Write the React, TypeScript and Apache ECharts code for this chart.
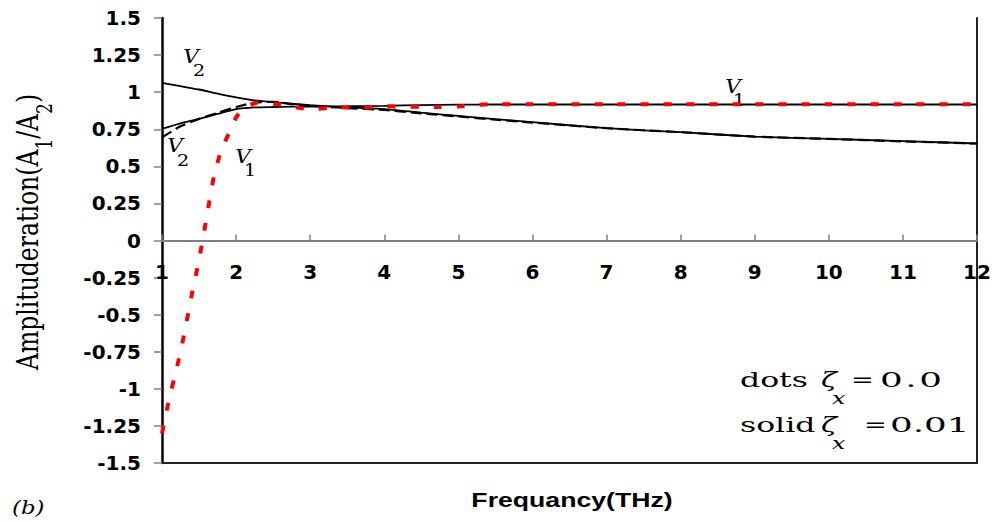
import React, { useEffect, useRef } from "react";
import * as echarts from "echarts";

// Frequency grid (THz) for the three smooth curves
const freq = [1, 1.25, 1.5, 1.75, 2, 2.25, 2.5, 2.75, 3, 3.5, 4, 4.5, 5, 5.5, 6, 7, 8, 9, 10, 11, 12];
// solid, zeta_x = 0.01
const v1Solid = [0.753, 0.79, 0.82, 0.853, 0.885, 0.897, 0.9, 0.902, 0.903, 0.905, 0.908, 0.913, 0.916, 0.917, 0.917, 0.917, 0.917, 0.917, 0.917, 0.917, 0.917];
const v2Solid = [1.063, 1.04, 1.018, 0.99, 0.965, 0.945, 0.933, 0.922, 0.912, 0.898, 0.886, 0.862, 0.84, 0.818, 0.798, 0.757, 0.73, 0.7, 0.685, 0.67, 0.654];
// dashed, zeta_x = 0.0 (V2)
const v2Dashed = [0.695, 0.77, 0.82, 0.86, 0.9, 0.93, 0.935, 0.92, 0.908, 0.893, 0.88, 0.857, 0.836, 0.815, 0.795, 0.757, 0.73, 0.7, 0.685, 0.668, 0.654];
// dotted red, zeta_x = 0.0 (V1)
const freqDot = [1, 1.1, 1.2, 1.3, 1.4, 1.5, 1.6, 1.7, 1.8, 1.9, 2, 2.1, 2.3, 2.6, 3, 3.4, 3.7, 4, 4.7, 5, 5.4, 6, 7, 8, 9, 10, 11, 12];
const v1Dotted = [-1.3, -1.06, -0.86, -0.63, -0.37, -0.13, 0.15, 0.43, 0.61, 0.72, 0.83, 0.89, 0.93, 0.915, 0.885, 0.898, 0.895, 0.905, 0.9, 0.903, 0.918, 0.918, 0.918, 0.918, 0.918, 0.918, 0.918, 0.918];

const xMin = 1;
const xMax = 12;
const yMin = -1.5;
const yMax = 1.5;
const yStep = 0.25;

const pairs = (xs: number[], ys: number[]) => xs.map((x, i) => [x, ys[i]]);

const SERIF = "'DejaVu Serif', serif";
const SANS_BOLD = "'DejaVu Sans', sans-serif";

const GRID_TOP = 18;
const GRID_BOTTOM = 59;
const CHART_H = 522;
const PLOT_H = CHART_H - GRID_TOP - GRID_BOTTOM;
// shift of the frequency axis from the plot's bottom edge up to the value 0
const ZERO_SHIFT = -PLOT_H * (0 - yMin) / (yMax - yMin);

function txt(x: number, y: number, text: string, opts: any = {}) {
  const { scaleX = 1, scaleY = 1, rotation = 0, ...style } = opts;
  return {
    type: "text",
    x,
    y,
    scaleX,
    scaleY,
    rotation,
    silent: true,
    style: {
      text,
      fill: "#000",
      fontFamily: SERIF,
      fontSize: 18,
      align: "left",
      verticalAlign: "middle",
      ...style,
    },
  };
}

function buildOption() {
  return {
    animation: false,
    backgroundColor: "#fff",
    grid: { left: 162, right: 21, top: GRID_TOP, bottom: GRID_BOTTOM, containLabel: false },
    xAxis: [
      {
        type: "value",
        min: xMin,
        max: xMax,
        interval: 1,
        position: "bottom",
        offset: ZERO_SHIFT,
        axisLine: { onZero: false, lineStyle: { color: "#808080", width: 2 } },
        axisTick: { inside: true, length: 6, lineStyle: { color: "#808080", width: 1.5 } },
        axisLabel: {
          color: "#000",
          fontFamily: SANS_BOLD,
          fontWeight: "bold",
          fontSize: 20,
          margin: 21,
        },
        splitLine: { show: false },
        z: 1,
      },
      {
        type: "value",
        min: xMin,
        max: xMax,
        position: "bottom",
        axisLine: { onZero: false, lineStyle: { color: "#222", width: 2 } },
        axisTick: { show: false },
        axisLabel: { show: false },
        splitLine: { show: false },
      },
    ],
    yAxis: [
      {
        type: "value",
        min: yMin,
        max: yMax,
        interval: yStep,
        axisLine: { show: true, onZero: false, lineStyle: { color: "#000", width: 2.5 } },
        axisTick: { show: true, length: 8, lineStyle: { color: "#808080", width: 1.5 } },
        axisLabel: {
          color: "#000",
          fontFamily: SANS_BOLD,
          fontWeight: "bold",
          fontSize: 20,
          margin: 21,
        },
        splitLine: { show: false },
      },
      {
        type: "value",
        min: yMin,
        max: yMax,
        position: "right",
        axisLine: { show: true, onZero: false, lineStyle: { color: "#222", width: 2 } },
        axisTick: { show: false },
        axisLabel: { show: false },
        splitLine: { show: false },
      },
    ],
    series: [
      {
        name: "V1 solid",
        type: "line",
        data: pairs(freq, v1Solid),
        showSymbol: false,
        symbol: "none",
        smooth: 0.2,
        lineStyle: { color: "#000", width: 1.8 },
        z: 2,
      },
      {
        name: "V2 solid",
        type: "line",
        data: pairs(freq, v2Solid),
        showSymbol: false,
        symbol: "none",
        smooth: 0.2,
        lineStyle: { color: "#000", width: 1.8 },
        z: 2,
      },
      {
        name: "V2 dashed",
        type: "line",
        data: pairs(freq, v2Dashed),
        showSymbol: false,
        symbol: "none",
        smooth: 0.2,
        lineStyle: { color: "#000", width: 2.2, type: [11, 5] },
        z: 3,
      },
      {
        name: "V1 dotted",
        type: "line",
        data: pairs(freqDot, v1Dotted),
        showSymbol: false,
        symbol: "none",
        smooth: 0.2,
        lineStyle: { color: "#ff0000", width: 4, type: [8, 15] },
        z: 4,
      },
    ],
    graphic: [
      // y-axis title (rotated)
      {
        type: "text",
        x: 27,
        y: 232,
        rotation: Math.PI / 2,
        scaleY: 1.3,
        silent: true,
        style: {
          text: "{a|Amplituderation(A}{s|1}{a|/A}{s|2}{a|)}",
          align: "center",
          verticalAlign: "middle",
          rich: {
            a: { fontFamily: SERIF, fontSize: 23.5, lineHeight: 44, fill: "#000" },
            s: { fontFamily: SERIF, fontSize: 17, lineHeight: 17, verticalAlign: "bottom", fill: "#000" },
          },
        },
      },
      // x-axis title
      txt(572, 500, "Frequancy(THz)", {
        fontFamily: "'Liberation Sans', Arial, sans-serif",
        fontWeight: "bold",
        fontSize: 20.5,
        align: "center",
        scaleX: 1.3,
      }),
      // panel tag
      txt(12, 508, "(b)", { fontStyle: "italic", fontSize: 19, scaleX: 1.2 }),
      // curve labels
      txt(191, 57, "V", { fontStyle: "italic", fontSize: 18, align: "center", scaleX: 1.2 }),
      txt(199, 71, "2", { fontSize: 16, align: "center", scaleX: 1.2 }),
      txt(175, 146, "V", { fontStyle: "italic", fontSize: 18, align: "center", scaleX: 1.2 }),
      txt(183, 161, "2", { fontSize: 16, align: "center", scaleX: 1.2 }),
      txt(243, 157, "V", { fontStyle: "italic", fontSize: 18, align: "center", scaleX: 1.2 }),
      txt(250, 171, "1", { fontSize: 16, align: "center", scaleX: 1.2 }),
      txt(733, 87, "V", { fontStyle: "italic", fontSize: 18, align: "center", scaleX: 1.2 }),
      txt(739, 101, "1", { fontSize: 16, align: "center", scaleX: 1.2 }),
      // damping annotation
      txt(740, 380, "dots", { fontSize: 21, scaleX: 1.5 }),
      txt(821, 380, "ζ", { fontSize: 21, fontStyle: "italic", scaleX: 1.4 }),
      txt(832, 398, "x", { fontSize: 17, fontStyle: "italic", scaleX: 1.4 }),
      txt(851, 380, "=", { fontSize: 21, scaleX: 1.3 }),
      {
        type: "text",
        x: 880,
        y: 380,
        scaleX: 1.7,
        silent: true,
        style: {
          text: "{d|0}{p|.}{d|0}",
          align: "left",
          verticalAlign: "middle",
          rich: {
            d: { fontFamily: SERIF, fontSize: 21, fill: "#000" },
            p: { fontFamily: SERIF, fontSize: 21, fill: "#000", padding: [0, 1.5, 0, 1.5] },
          },
        },
      },
      txt(740, 425, "solid", { fontSize: 21, scaleX: 1.5 }),
      txt(821, 425, "ζ", { fontSize: 21, fontStyle: "italic", scaleX: 1.4 }),
      txt(832, 443, "x", { fontSize: 17, fontStyle: "italic", scaleX: 1.4 }),
      txt(864, 425, "=", { fontSize: 21, scaleX: 1.3 }),
      txt(890, 425, "0.01", { fontSize: 21, scaleX: 1.7 }),
    ],
  };
}

export default function App() {
  const ref = useRef<HTMLDivElement>(null);
  useEffect(() => {
    document.body.style.margin = "0";
    const chart = echarts.init(ref.current as HTMLDivElement, null, { renderer: "svg" });
    chart.setOption(buildOption() as any);
    return () => chart.dispose();
  }, []);
  return (
    <div
      ref={ref}
      style={{ position: "fixed", left: 0, top: 0, width: 998, height: 522, background: "#fff" }}
    />
  );
}
